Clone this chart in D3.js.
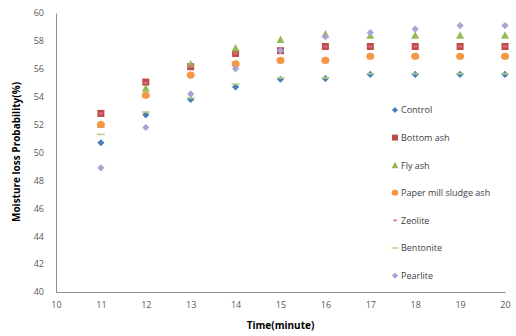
<!DOCTYPE html>
<html lang="en">
<head>
    <meta charset="UTF-8">
    <title>Moisture loss</title>
    <script src="https://d3js.org/d3.v7.js"></script>
    <style>
        body { margin: 0; background: #fff; }
        text { font-family: "Open Sans", "Noto Sans", sans-serif; }
    </style>
</head>
<body>
    <svg></svg>
    <script>
        // chart values
        const times = [11, 12, 13, 14, 15, 16, 17, 18, 19, 20];
        const seriesNames = ["Control", "Bottom ash", "Fly ash", "Paper mill  sludge ash", "Zeolite", "Bentonite", "Pearlite"];
        const control = [50.7, 52.7, 53.8, 54.7, 55.25, 55.3, 55.6, 55.6, 55.6, 55.6];
        const bottomAsh = [52.8, 55.05, 56.15, 57.1, 57.3, 57.6, 57.6, 57.6, 57.6, 57.6];
        const flyAsh = [52.0, 54.6, 56.35, 57.5, 58.1, 58.5, 58.4, 58.4, 58.4, 58.4];
        const paperMill = [52.0, 54.1, 55.55, 56.35, 56.6, 56.6, 56.9, 56.9, 56.9, 56.9];
        const zeolite = [52.8, 55.0, 56.2, 57.1, 57.3, 57.6, 57.6, 57.6, 57.6, 57.6];
        const bentonite = [51.3, 52.9, 53.9, 54.9, 55.35, 55.35, 55.65, 55.65, 55.65, 55.65];
        const pearlite = [48.9, 51.8, 54.2, 56.0, 57.3, 58.3, 58.6, 58.85, 59.1, 59.1];
        const xTicks = [10, 11, 12, 13, 14, 15, 16, 17, 18, 19, 20];
        const yTicks = [40, 42, 44, 46, 48, 50, 52, 54, 56, 58, 60];

        const allValues = [control, bottomAsh, flyAsh, paperMill, zeolite, bentonite, pearlite];
        const colors = ["#4A7EBB", "#BE4B48", "#98B954", "#F59845", "#E06A8C", "#B7D083", "#A8A4D6"];
        const shapes = ["diamond", "square", "triangle", "circle", "dash", "line", "diamond"];

        const width = 516, height = 336;
        const margin = { left: 56, right: 11, top: 13, bottom: 44 };

        const svg = d3.select("svg")
            .attr("width", width)
            .attr("height", height);

        const x = d3.scaleLinear().domain([10, 20]).range([margin.left, width - margin.right]);
        const y = d3.scaleLinear().domain([40, 60]).range([height - margin.bottom, margin.top]);

        // axes
        const xAxis = svg.append("g")
            .attr("transform", `translate(0,${height - margin.bottom})`)
            .call(d3.axisBottom(x).tickValues(xTicks).tickSize(0).tickPadding(10));
        const yAxis = svg.append("g")
            .attr("transform", `translate(${margin.left},0)`)
            .call(d3.axisLeft(y).tickValues(yTicks).tickSize(0).tickPadding(12));
        [xAxis, yAxis].forEach(g => {
            g.select(".domain").attr("stroke", "#8c8c8c");
            g.selectAll("text").attr("fill", "#595959").style("font-size", "9px");
        });

        // marker drawing
        function marker(sel, shape, color) {
            if (shape === "diamond") {
                sel.append("path").attr("d", "M0,-3.6L3.6,0L0,3.6L-3.6,0Z").attr("fill", color);
            } else if (shape === "square") {
                sel.append("rect").attr("x", -3.5).attr("y", -3.5).attr("width", 7).attr("height", 7).attr("fill", color);
            } else if (shape === "triangle") {
                sel.append("path").attr("d", "M0,-4L4,3.5L-4,3.5Z").attr("fill", color);
            } else if (shape === "circle") {
                sel.append("ellipse").attr("rx", 4).attr("ry", 3.6).attr("fill", color);
            } else if (shape === "dash") {
                sel.append("rect").attr("x", -2).attr("y", -1).attr("width", 4).attr("height", 2).attr("fill", color);
            } else if (shape === "line") {
                sel.append("rect").attr("x", -4).attr("y", -0.8).attr("width", 8).attr("height", 1.6).attr("fill", color);
            }
        }

        // points
        allValues.forEach((vals, si) => {
            svg.append("g").selectAll("g")
                .data(vals.map((v, i) => ({ t: times[i], v })))
                .join("g")
                .attr("transform", d => `translate(${x(d.t)},${y(d.v)})`)
                .each(function () { marker(d3.select(this), shapes[si], colors[si]); });
        });

        // legend
        const legend = svg.append("g").attr("transform", "translate(395,110)");
        seriesNames.forEach((name, i) => {
            const row = legend.append("g").attr("transform", `translate(0,${i * 27.6})`);
            marker(row.append("g").attr("transform", "scale(0.85)"), shapes[i], colors[i]);
            row.append("text").attr("x", 6).attr("y", 3.3)
                .attr("fill", "#404040").style("font-size", "9px").text(name);
        });

        // axis titles
        svg.append("text")
            .attr("x", (margin.left + width - margin.right) / 2).attr("y", 329)
            .attr("text-anchor", "middle").style("font-size", "10px").style("font-weight", "bold")
            .text("Time(minute)");
        svg.append("text")
            .attr("transform", "translate(20,152) rotate(-90)")
            .attr("text-anchor", "middle").style("font-size", "10px").style("font-weight", "bold")
            .text("Moisture loss Probability(%)");
    </script>
</body>
</html>
